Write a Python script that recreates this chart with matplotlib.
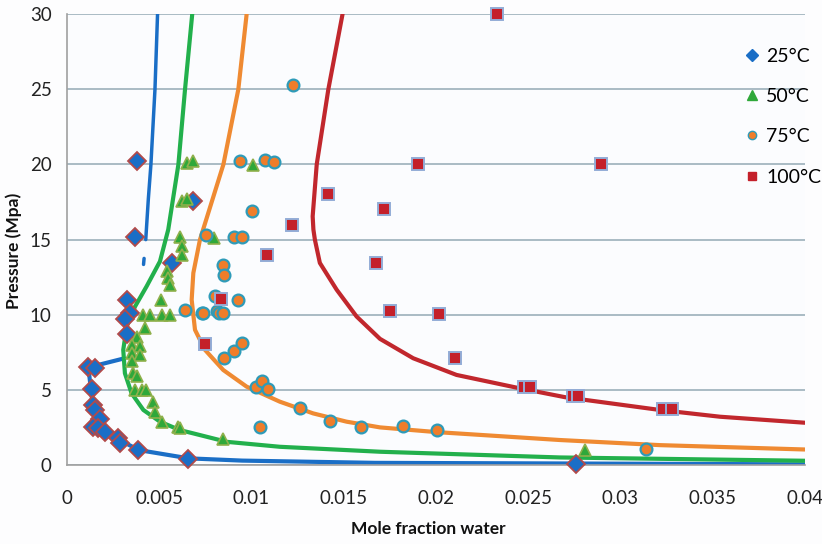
import matplotlib
matplotlib.use("Agg")
import matplotlib.pyplot as plt
from matplotlib.lines import Line2D

plt.rcParams['font.family'] = ['Lato', 'DejaVu Sans']

# ---------------- data (mole fraction water, pressure MPa) ----------------
x25 = [0.00381, 0.00685, 0.00369, 0.00567, 0.00324, 0.00341, 0.00314, 0.00324,
       0.00116, 0.00152, 0.00134, 0.00139, 0.00152, 0.00179, 0.00143, 0.00170,
       0.00206, 0.00278, 0.00287, 0.00387, 0.00658, 0.0276]
p25 = [20.2, 17.55, 15.15, 13.45, 11.0, 10.1, 9.7, 8.7,
       6.5, 6.44, 5.07, 4.0, 3.67, 3.1, 2.55, 2.44,
       2.22, 1.78, 1.44, 1.0, 0.44, 0.1]

x50 = [0.00649, 0.00685, 0.01007, 0.00622, 0.00649, 0.00612, 0.00797, 0.00622,
       0.00622, 0.00540, 0.00549, 0.00558, 0.00510, 0.00410, 0.00450, 0.00513,
       0.00558, 0.00423, 0.00378, 0.00350, 0.00396, 0.00350, 0.00396, 0.00350,
       0.00360, 0.00378, 0.00369, 0.00405, 0.00428, 0.00468, 0.00477, 0.00513,
       0.00604, 0.00612, 0.00847, 0.0281]
p50 = [20.1, 20.2, 19.95, 17.55, 17.67, 15.15, 15.1, 14.55,
       14.0, 12.9, 12.45, 12.0, 11.0, 10.0, 10.0, 10.0,
       10.0, 9.1, 8.55, 8.0, 7.9, 7.45, 7.33, 6.9,
       6.1, 5.9, 5.0, 5.0, 5.0, 4.2, 3.55, 2.9,
       2.55, 2.45, 1.72, 1.0]

x75 = [0.01227, 0.00939, 0.01073, 0.01122, 0.01001, 0.00755, 0.00905, 0.00947,
       0.00844, 0.00851, 0.00805, 0.00929, 0.00640, 0.00733, 0.00740, 0.00811,
       0.00826, 0.00847, 0.00853, 0.00906, 0.00947, 0.01024, 0.01055, 0.01091,
       0.01046, 0.01263, 0.01425, 0.01593, 0.01821, 0.02005, 0.03137]
p75 = [25.3, 20.2, 20.27, 20.18, 16.9, 15.33, 15.15, 15.15,
       13.33, 12.67, 11.22, 11.0, 10.33, 10.11, 10.11, 10.22,
       10.11, 10.11, 7.15, 7.58, 8.11, 5.22, 5.62, 5.04,
       2.51, 3.78, 2.95, 2.51, 2.6, 2.33, 1.09]

x100 = [0.02331, 0.01905, 0.02898, 0.01415, 0.01718, 0.01220, 0.01083, 0.01677,
        0.00833, 0.01751, 0.02015, 0.00750, 0.02103, 0.02477, 0.02513, 0.02741,
        0.02771, 0.03232, 0.03278]
p100 = [30.0, 20.05, 20.05, 18.05, 17.05, 16.0, 14.0, 13.45,
        11.05, 10.27, 10.05, 8.05, 7.15, 5.18, 5.18, 4.6,
        4.6, 3.71, 3.71]

# model curves
c25_up_x = [0.00427, 0.00441, 0.00455, 0.00477, 0.00491]
c25_up_p = [15.0, 17.7, 20.0, 25.0, 30.0]
c25_dash_x = [0.00415, 0.00418]
c25_dash_p = [13.35, 13.75]
c25_lo_x = [0.00310, 0.00116, 0.00130, 0.00140, 0.00161, 0.00210, 0.00280, 0.00390,
            0.00660, 0.00950, 0.01670, 0.02670, 0.04]
c25_lo_p = [7.1, 6.5, 5.0, 4.0, 3.0, 2.3, 1.7, 1.0,
            0.45, 0.3, 0.15, 0.11, 0.05]

c50_x = [0.00679, 0.00640, 0.00604, 0.00549, 0.00504, 0.00432, 0.00369, 0.00324,
         0.00305, 0.00314, 0.00350, 0.00414, 0.00504, 0.00612, 0.00685, 0.00866,
         0.01154, 0.01697, 0.02672, 0.04]
c50_p = [30, 25, 20, 15.67, 13.55, 11.9, 10.55, 9.22,
         7.67, 6.11, 4.78, 3.67, 2.89, 2.33, 2.11, 1.55,
         1.22, 0.89, 0.51, 0.29]

c75_x = [0.00974, 0.00929, 0.00848, 0.00721, 0.00685, 0.00676, 0.00694, 0.00748,
         0.00847, 0.00974, 0.01154, 0.01335, 0.01516, 0.01697, 0.02000, 0.02672,
         0.03214, 0.04]
c75_p = [30, 25, 20, 15, 12.78, 11.0, 9.0, 7.67,
         6.33, 5.22, 4.22, 3.44, 2.89, 2.51, 2.2, 1.67,
         1.33, 1.04]

c100_x = [0.01494, 0.01417, 0.01354, 0.01332, 0.01336, 0.01344, 0.01371, 0.01462,
          0.01570, 0.01697, 0.01877, 0.02112, 0.02455, 0.02700, 0.03214, 0.03540, 0.04]
c100_p = [30, 25, 20, 16.55, 15.67, 15.0, 13.45, 11.67,
          9.89, 8.4, 7.11, 6.0, 5.11, 4.52, 3.67, 3.22, 2.82]

labels = ['25°C', '50°C', '75°C', '100°C']
x_ticks = [0, 0.005, 0.01, 0.015, 0.02, 0.025, 0.03, 0.035, 0.04]
x_tick_labels = ['0', '0.005', '0.01', '0.015', '0.02', '0.025', '0.03', '0.035', '0.04']
y_ticks = [0, 5, 10, 15, 20, 25, 30]

# ---------------- styles ----------------
BLUE = '#1a6ec6'
GREEN = '#22b04c'
ORANGE = '#ef8a32'
RED = '#c1272d'

fig = plt.figure(figsize=(8.22, 5.44), dpi=100, facecolor='#fdfdfe')
ax = fig.add_axes([0.0815, 0.145, 0.8975, 0.829])
ax.set_facecolor('#fbfcfe')

lw = 3.0
ax.plot(c25_up_x, c25_up_p, color=BLUE, lw=2.5, solid_capstyle='round', zorder=2)
ax.plot(c25_dash_x, c25_dash_p, color=BLUE, lw=2.5, solid_capstyle='round', zorder=2)
ax.plot(c25_lo_x, c25_lo_p, color=BLUE, lw=lw, solid_capstyle='round', zorder=2)
ax.plot(c50_x, c50_p, color=GREEN, lw=lw, solid_capstyle='round', zorder=2)
ax.plot(c75_x, c75_p, color=ORANGE, lw=lw, solid_capstyle='round', zorder=2)
ax.plot(c100_x, c100_p, color=RED, lw=lw, solid_capstyle='round', zorder=2)

ax.plot(x25, p25, 'D', ms=9, mfc=BLUE, mec='#b24a4a', mew=1.3, ls='none', zorder=4, clip_on=False)
ax.plot(x50, p50, '^', ms=8.5, mfc='#2fa83a', mec='#8fb04c', mew=1.2, ls='none', zorder=4, clip_on=False)
ax.plot(x75, p75, 'o', ms=8.5, mfc='#ef7d2a', mec='#2e9bb9', mew=1.6, ls='none', zorder=4, clip_on=False)
ax.plot(x100, p100, 's', ms=8, mfc='#c4202a', mec='#93acd6', mew=1.4, ls='none', zorder=4, clip_on=False)

ax.set_xlim(0, 0.04)
ax.set_ylim(0, 30)
ax.set_xticks(x_ticks)
ax.set_xticklabels(x_tick_labels)
ax.set_yticks(y_ticks)
ax.yaxis.grid(True, color='#93a9b4', lw=1.1)
ax.set_axisbelow(True)
ax.tick_params(axis='both', length=0, labelsize=13.5, colors='#222222')
ax.tick_params(axis='x', pad=18)
ax.tick_params(axis='y', pad=11)
for s in ['top', 'right']:
    ax.spines[s].set_visible(False)
for s in ['left', 'bottom']:
    ax.spines[s].set_color('#a0a0a0')
    ax.spines[s].set_linewidth(1.2)

ax.set_xlabel('Mole fraction water', fontsize=12.5, fontweight='bold', color='#111111')
ax.set_ylabel('Pressure (Mpa)', fontsize=12.5, fontweight='bold', color='#111111')
ax.xaxis.set_label_coords(0.49, -0.125)
ax.yaxis.set_label_coords(-0.061, 0.475)

handles = [
    Line2D([], [], marker='D', ls='none', ms=6, mfc=BLUE, mec=BLUE),
    Line2D([], [], marker='^', ls='none', ms=7, mfc='#2fa83a', mec='#2fa83a'),
    Line2D([], [], marker='o', ls='none', ms=6, mfc='#ef7d2a', mec='#2e9bb9', mew=1.0),
    Line2D([], [], marker='s', ls='none', ms=6, mfc='#c4202a', mec='#c4202a'),
]
ax.legend(handles, labels, loc='upper left', bbox_to_anchor=(0.908, 0.943),
          frameon=False, fontsize=14, handlelength=0.8, handletextpad=0.3,
          labelspacing=1.2, borderaxespad=0)

fig.savefig('out.png', dpi=100, facecolor=fig.get_facecolor())
